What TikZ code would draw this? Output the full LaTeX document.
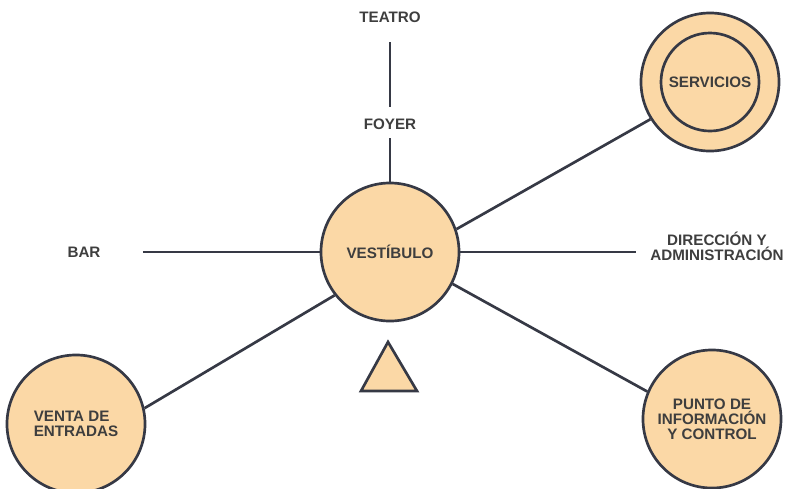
\documentclass[tikz,border=0pt]{standalone}
\usepackage{fontspec}
\setmainfont{Liberation Sans}
\usetikzlibrary{positioning,calc}
\definecolor{vbline}{HTML}{363945}
\definecolor{vbfill}{HTML}{FBD8A6}
\definecolor{vbtext}{HTML}{3E3E3E}

\begin{document}
\begin{tikzpicture}[
  x=0.025cm, y=-0.025cm,
  font=\fontsize{10.8}{10.5}\selectfont\bfseries,
  room/.style={circle, draw=vbline, fill=vbfill, line width=1.9pt,
               minimum size=#1, inner sep=0pt, text=vbtext, align=center},
  room/.default=3.45cm,
  place/.style={text=vbtext, align=center, inner sep=3pt},
  link/.style={draw=vbline, line width=1.9pt},
]
  \useasboundingbox (0,0) rectangle (788,488);

  % ---- hub ------------------------------------------------------------------
  \node[room] (vest) at (390,252) {VESTÍBULO};
  \draw[draw=vbline, fill=vbfill, line width=1.9pt]
    (388,342) -- (361,391) -- (417,391) -- cycle;

  % ---- rooms round the hub --------------------------------------------------
  \node[room] (serv) at (710,82) {};
  \node[room=2.45cm] (servin) at (serv) {SERVICIOS};
  \node[room] (punto) at (712,419) {PUNTO DE\\INFORMACIÓN\\Y CONTROL};
  \node[room, align=left] (venta) at (76,424) {VENTA DE\\ENTRADAS};

  % ---- spaces named only --------------------------------------------------
  \node[place] (teatro) at (390,17) {TEATRO};
  \node[place] (foyer) at (390,124) {FOYER};
  \node[place] (bar) at (84,252) {BAR};
  \node[place] (dir) at (717,246) {DIRECCIÓN Y\\ADMINISTRACIÓN};

  % ---- connections ------------------------------------------------------------
  \draw[link, shorten <=11pt, shorten >=5pt] (teatro) -- (foyer);
  \draw[link, shorten <=3pt] (foyer) -- (vest);
  \draw[link, shorten <=27pt] (bar) -- (vest);
  \draw[link, shorten >=7pt] (vest.east) -- (vest.east -| dir.west);
  \draw[link] (vest.19) -- (serv.212);
  \draw[link] (vest.333) -- (punto.157);
  \draw[link] (vest.218) -- (venta.13);
\end{tikzpicture}
\end{document}
